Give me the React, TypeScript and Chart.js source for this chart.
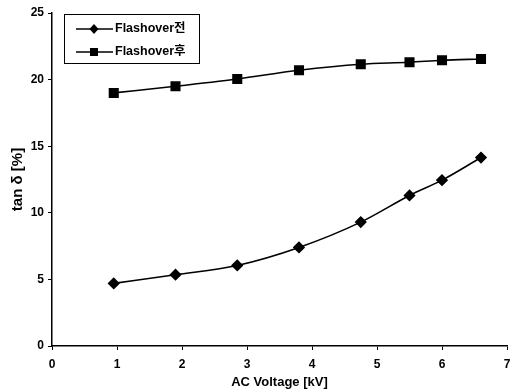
import React, { useEffect, useRef } from "react";
import { Chart, registerables } from "chart.js";

Chart.register(...registerables);

const voltages = [0.95, 1.9, 2.85, 3.8, 4.75, 5.5, 6.0, 6.6];
const beforeValues = [4.7, 5.35, 6.05, 7.4, 9.3, 11.3, 12.45, 14.15];
const afterValues = [19.0, 19.5, 20.05, 20.7, 21.15, 21.3, 21.45, 21.55];
const seriesLabels = ["Flashover전", "Flashover후"];
const xTicks = [0, 1, 2, 3, 4, 5, 6, 7];
const yTicks = [0, 5, 10, 15, 20, 25];

const FONT = "'Liberation Sans', 'Noto Sans CJK KR', sans-serif";

const legendPlugin = {
  id: "boxLegend",
  afterDraw(chart: any) {
    const ctx = chart.ctx;
    const ca = chart.chartArea;
    const x0 = ca.left + 12;
    const y0 = ca.top + 1;
    const w = 135;
    const h = 49;
    ctx.save();
    ctx.fillStyle = "#fff";
    ctx.fillRect(x0, y0, w, h);
    ctx.strokeStyle = "#000";
    ctx.lineWidth = 1;
    ctx.strokeRect(x0 + 0.5, y0 + 0.5, w, h);
    const styles = ["diamond", "square"];
    chart.data.datasets.forEach((ds: any, i: number) => {
      const cy = y0 + 15 + i * 23;
      ctx.strokeStyle = "#000";
      ctx.lineWidth = 1.5;
      ctx.beginPath();
      ctx.moveTo(x0 + 12, cy);
      ctx.lineTo(x0 + 49, cy);
      ctx.stroke();
      ctx.fillStyle = "#000";
      const mx = x0 + 30;
      ctx.beginPath();
      if (styles[i] === "diamond") {
        ctx.moveTo(mx, cy - 5);
        ctx.lineTo(mx + 4.5, cy);
        ctx.lineTo(mx, cy + 5);
        ctx.lineTo(mx - 4.5, cy);
        ctx.closePath();
      } else {
        ctx.rect(mx - 4, cy - 4, 8, 8);
      }
      ctx.fill();
      ctx.font = "bold 12.5px " + FONT;
      ctx.textBaseline = "middle";
      ctx.textAlign = "left";
      ctx.fillText(ds.label, x0 + 51, cy);
    });
    ctx.restore();
  },
};

export default function App() {
  const ref = useRef<HTMLCanvasElement>(null);
  useEffect(() => {
    if (!ref.current) return;
    const chart = new Chart(ref.current, {
      type: "line",
      data: {
        datasets: [
          {
            label: seriesLabels[0],
            data: voltages.map((v, i) => ({ x: v, y: beforeValues[i] })),
            borderColor: "#000",
            backgroundColor: "#000",
            borderWidth: 1.6,
            pointStyle: "rectRot",
            pointRadius: 5,
            tension: 0.3,
            cubicInterpolationMode: "monotone",
          },
          {
            label: seriesLabels[1],
            data: voltages.map((v, i) => ({ x: v, y: afterValues[i] })),
            borderColor: "#000",
            backgroundColor: "#000",
            borderWidth: 1.6,
            pointStyle: "rect",
            pointRadius: 6,
            tension: 0.3,
            cubicInterpolationMode: "monotone",
          },
        ],
      },
      options: {
        animation: false,
        responsive: false,
        layout: { autoPadding: false, padding: { top: 13, right: 5, left: 0, bottom: 0 } },
        plugins: { legend: { display: false }, tooltip: { enabled: false } },
        scales: {
          x: {
            type: "linear",
            min: 0,
            max: 7,
            afterBuildTicks: (s: any) => {
              s.ticks = xTicks.map((v) => ({ value: v }));
            },
            afterFit: (s: any) => {
              s.height = 46;
              s.paddingLeft = 0;
              s.paddingRight = 0;
            },
            grid: {
              display: true,
              drawOnChartArea: false,
              drawTicks: true,
              tickLength: 4,
              color: "#000",
            },
            border: { color: "#000", width: 1.5 },
            ticks: {
              color: "#000",
              padding: 7,
              font: { family: FONT, size: 12, weight: "bold" },
            },
            title: {
              display: true,
              text: "AC Voltage [kV]",
              color: "#000",
              padding: { top: 2, bottom: 2 },
              font: { family: FONT, size: 13, weight: "bold" },
            },
          },
          y: {
            type: "linear",
            min: 0,
            max: 25,
            afterBuildTicks: (s: any) => {
              s.ticks = yTicks.map((v) => ({ value: v }));
            },
            afterFit: (s: any) => {
              s.width = 52;
              s.paddingTop = 0;
              s.paddingBottom = 0;
            },
            grid: {
              display: true,
              drawOnChartArea: false,
              drawTicks: true,
              tickLength: 4,
              color: "#000",
            },
            border: { color: "#000", width: 1.5 },
            ticks: {
              color: "#000",
              padding: 4,
              font: { family: FONT, size: 12, weight: "bold" },
            },
            title: {
              display: true,
              text: "tan δ [%]",
              color: "#000",
              padding: { top: 9, bottom: 0 },
              font: { family: FONT, size: 15, weight: "bold" },
            },
          },
        },
      },
      plugins: [legendPlugin],
    } as any);
    return () => chart.destroy();
  }, []);
  return (
    <div style={{ position: "fixed", left: 0, top: 0, width: 512, height: 392, background: "#fff" }}>
      <canvas ref={ref} width={512} height={392} style={{ display: "block" }} />
    </div>
  );
}
